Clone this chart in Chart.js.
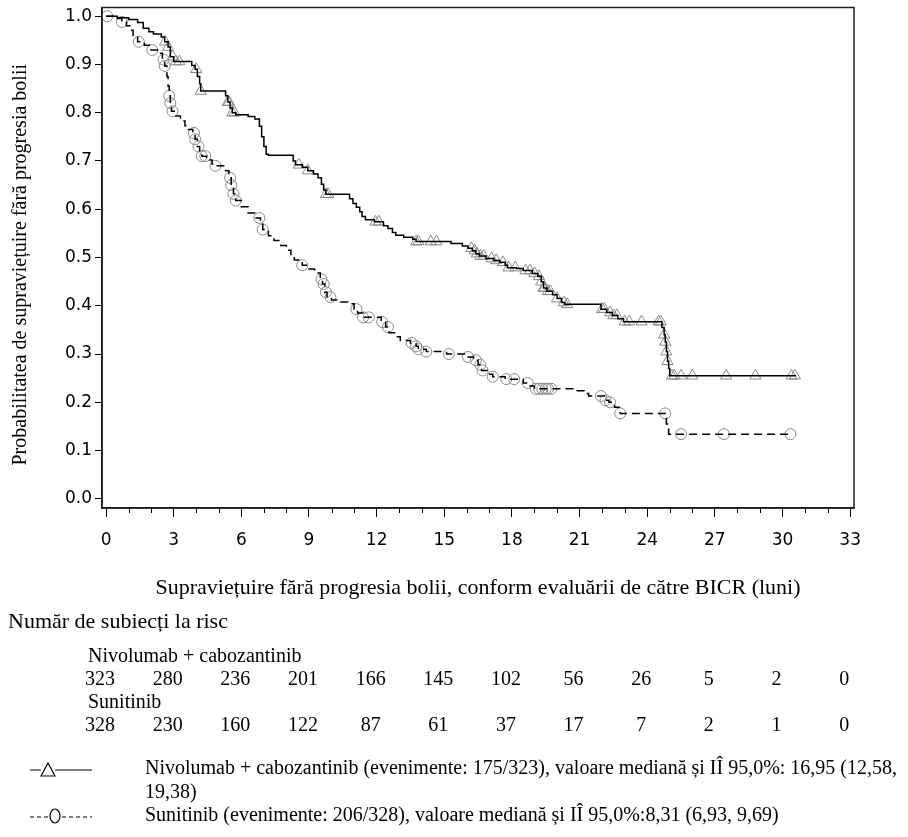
<!DOCTYPE html>
<html>
<head>
<meta charset="utf-8">
<script src="https://cdn.jsdelivr.net/npm/chart.js@4.4.1/dist/chart.umd.min.js"></script>
<style>
  html, body { margin: 0; padding: 0; background: #fff; }
  canvas { display: block; }
</style>
</head>
<body>
<canvas id="kmChart" width="908" height="837"></canvas>
<script>
// axis ticks
const xTicks = [0, 3, 6, 9, 12, 15, 18, 21, 24, 27, 30, 33];
const yTicks = [0, 0.1, 0.2, 0.3, 0.4, 0.5, 0.6, 0.7, 0.8, 0.9, 1.0];

// Nivolumab + cabozantinib: KM steps (months, survival)
const nivoTime = [0, 0.5, 1.0, 1.4, 1.65, 1.9, 2.1, 2.45, 2.6, 2.75, 2.85, 3.0,
  3.8, 3.95, 4.05, 4.15, 4.2, 5.3, 5.4, 5.5, 5.6, 5.75, 6.3, 6.6, 6.8, 6.9, 7.0, 7.1, 7.2,
  8.3, 8.4, 8.7, 8.95, 9.2, 9.4, 9.55, 9.65, 9.75, 10.8, 10.95, 11.1, 11.25, 11.35, 11.5,
  11.9, 12.3, 12.5, 12.7, 12.85, 13.2, 13.6, 13.75, 15.3, 15.8, 16.05, 16.25, 16.4, 16.55,
  16.85, 17.2, 17.45, 17.7, 17.8, 18.2, 18.5, 18.9, 19.15, 19.3, 19.4, 19.55, 19.8, 20.0,
  20.2, 20.35, 21.95, 22.2, 22.45, 22.7, 22.95, 24.65, 24.75, 24.8, 24.85, 24.9, 24.95,
  25.0, 30.6];
const nivoSurv = [1.0, 0.997, 0.993, 0.987, 0.975, 0.968, 0.963, 0.957, 0.947, 0.936, 0.916, 0.906,
  0.898, 0.89, 0.875, 0.86, 0.845, 0.835, 0.822, 0.81, 0.8, 0.796, 0.792, 0.787, 0.772, 0.75, 0.73, 0.714, 0.712,
  0.70, 0.692, 0.687, 0.68, 0.673, 0.665, 0.652, 0.64, 0.631, 0.622, 0.612, 0.604, 0.595, 0.585, 0.578,
  0.574, 0.566, 0.56, 0.552, 0.546, 0.542, 0.538, 0.533, 0.529, 0.524, 0.519, 0.514, 0.508, 0.503,
  0.498, 0.494, 0.49, 0.484, 0.479, 0.477, 0.473, 0.467, 0.461, 0.45, 0.437, 0.43, 0.423, 0.415,
  0.407, 0.403, 0.393, 0.386, 0.38, 0.373, 0.367, 0.355, 0.34, 0.325, 0.305, 0.285, 0.27,
  0.255, 0.255];
const nivoCensor = [2.62, 2.75, 2.95, 3.1, 3.25, 4.0, 4.2, 5.4, 5.45, 5.6, 5.7, 8.55, 8.95, 9.75, 9.85,
  11.95, 12.1, 13.75, 13.85, 14.4, 14.65, 16.2, 16.35, 16.45, 16.6, 16.75, 17.1, 17.3, 17.6, 17.85,
  18.15, 18.6, 18.8, 19.0, 19.2, 19.3, 19.4, 19.45, 19.6, 19.7, 20.0, 20.3, 20.45, 22.0, 22.1, 22.35,
  22.5, 22.65, 23.0, 23.2, 23.75, 24.5, 24.6, 24.75, 24.8, 24.85, 24.9, 25.1, 25.2, 25.5, 26.0, 27.5,
  28.8, 30.4, 30.55];

// Sunitinib: KM steps
const suniTime = [0, 0.4, 0.7, 0.9, 1.05, 1.2, 1.4, 1.7, 2.0, 2.35, 2.5, 2.6, 2.7, 2.75, 2.8, 2.85, 2.9,
  3.1, 3.3, 3.5, 3.65, 3.85, 3.95, 4.05, 4.15, 4.25, 4.45, 4.7, 4.85, 5.3, 5.45, 5.55, 5.65, 5.75,
  6.0, 6.3, 6.6, 6.85, 6.95, 7.2, 7.45, 7.75, 8.0, 8.2, 8.35, 8.7, 9.0, 9.25, 9.5, 9.6, 9.7, 9.8,
  10.0, 10.4, 10.8, 11.0, 11.15, 11.4, 12.2, 12.4, 12.55, 12.8, 13.05, 13.5, 13.75, 13.85, 14.2,
  15.1, 16.0, 16.3, 16.5, 16.65, 16.9, 17.15, 17.7, 18.5, 18.8, 19.0, 20.7, 21.2, 21.4, 22.1, 22.3,
  22.55, 22.8, 24.85, 24.95, 30.45];
const suniSurv = [1.0, 0.995, 0.988, 0.98, 0.971, 0.96, 0.947, 0.94, 0.93, 0.923, 0.91, 0.897, 0.875, 0.855, 0.835, 0.82, 0.803,
  0.793, 0.783, 0.773, 0.765, 0.758, 0.745, 0.73, 0.718, 0.71, 0.702, 0.694, 0.69, 0.68, 0.665, 0.65, 0.632, 0.618,
  0.605, 0.592, 0.582, 0.572, 0.558, 0.545, 0.535, 0.525, 0.515, 0.502, 0.495, 0.484, 0.476, 0.468, 0.455, 0.445, 0.428, 0.418,
  0.412, 0.408, 0.404, 0.393, 0.385, 0.376, 0.366, 0.356, 0.344, 0.336, 0.328, 0.323, 0.316, 0.31, 0.305,
  0.3, 0.294, 0.287, 0.278, 0.266, 0.258, 0.253, 0.248, 0.24, 0.234, 0.228, 0.224, 0.218, 0.213, 0.204, 0.2,
  0.19, 0.177, 0.155, 0.134, 0.134];
const suniCensor = [0.05, 0.7, 1.45, 2.05, 2.55, 2.6, 2.8, 2.85, 2.95, 3.9, 3.95, 4.1, 4.25, 4.4, 4.85,
  5.5, 5.55, 5.65, 5.75, 6.8, 6.95, 8.7, 9.55, 9.65, 9.75, 9.95, 11.1, 11.4, 11.65, 12.25, 12.5, 13.55,
  13.75, 13.85, 14.2, 15.2, 16.05, 16.4, 16.6, 16.7, 17.15, 17.75, 18.1, 18.7, 19.05, 19.2, 19.35, 19.5,
  19.6, 19.75, 21.95, 22.15, 22.35, 22.8, 24.8, 25.5, 27.4, 30.35];

// number at risk
const riskTimes = [0, 3, 6, 9, 12, 15, 18, 21, 24, 27, 30, 33];
const nivoRisk = [323, 280, 236, 201, 166, 145, 102, 56, 26, 5, 2, 0];
const suniRisk = [328, 230, 160, 122, 87, 61, 37, 17, 7, 2, 1, 0];

const yTitle = 'Probabilitatea de supraviețuire fără progresia bolii';
const xTitle = 'Supraviețuire fără progresia bolii, conform evaluării de către BICR (luni)';
const riskTitle = 'Număr de subiecți la risc';
const armNames = ['Nivolumab + cabozantinib', 'Sunitinib'];
const legendLines = [
  'Nivolumab + cabozantinib (evenimente: 175/323), valoare mediană și IÎ 95,0%: 16,95 (12,58,',
  '19,38)',
  'Sunitinib (evenimente: 206/328), valoare mediană și IÎ 95,0%:8,31 (6,93, 9,69)'
];

const serif = '"Liberation Serif", "Times New Roman", serif';
const sans = '"DejaVu Sans", Verdana, sans-serif';

function toPoints(times, surv) {
  return times.map((t, i) => ({ x: t, y: surv[i] }));
}

// survival value at a censor time, read from the step arrays
function survAt(times, surv, t) {
  let s = surv[0];
  for (let i = 0; i < times.length; i++) {
    if (times[i] <= t) s = surv[i]; else break;
  }
  return s;
}

function censorPoints(cens, times, surv) {
  return cens.map(t => ({ x: t, y: survAt(times, surv, t) }));
}

const kmText = {
  id: 'kmText',
  afterDraw(chart) {
    const { ctx, chartArea: a, scales: { x } } = chart;
    ctx.save();

    // frame round the plot
    ctx.strokeStyle = '#222';
    ctx.lineWidth = 1.5;
    ctx.strokeRect(a.left, a.top, a.right - a.left, a.bottom - a.top);

    // minor ticks every month
    ctx.lineWidth = 1;
    ctx.strokeStyle = '#000';
    for (let m = xTicks[0]; m <= xTicks[xTicks.length - 1]; m++) {
      if (m % 3 === 0) continue;
      const px = Math.round(x.getPixelForValue(m)) + 0.5;
      ctx.beginPath();
      ctx.moveTo(px, a.bottom);
      ctx.lineTo(px, a.bottom + 5);
      ctx.stroke();
    }

    ctx.fillStyle = '#000';
    ctx.textBaseline = 'middle';

    // y title
    ctx.font = '20px ' + serif;
    ctx.save();
    ctx.translate(21, (a.top + a.bottom) / 2 + 7);
    ctx.rotate(-Math.PI / 2);
    ctx.textAlign = 'center';
    ctx.fillText(yTitle, 0, 0);
    ctx.restore();

    // x title
    ctx.font = '22px ' + serif;
    ctx.textAlign = 'center';
    ctx.fillText(xTitle, (a.left + a.right) / 2, 588);

    // number at risk
    ctx.textAlign = 'left';
    ctx.fillText(riskTitle, 8, 622);
    ctx.font = '20px ' + serif;
    ctx.fillText(armNames[0], 88, 657);
    ctx.fillText(armNames[1], 88, 703);
    ctx.textAlign = 'center';
    riskTimes.forEach((t, i) => {
      const px = x.getPixelForValue(t) - 6;
      ctx.fillText(String(nivoRisk[i]), px, 680);
      ctx.fillText(String(suniRisk[i]), px, 726);
    });

    // legend
    ctx.textAlign = 'left';
    ctx.fillText(legendLines[0], 145, 769, 752);
    ctx.fillText(legendLines[1], 145, 793);
    ctx.fillText(legendLines[2], 145, 816, 752);

    // legend samples
    ctx.strokeStyle = '#000';
    ctx.lineWidth = 1.2;
    ctx.beginPath();
    ctx.moveTo(30, 770); ctx.lineTo(41, 770);
    ctx.moveTo(55, 770); ctx.lineTo(92, 770);
    ctx.stroke();
    ctx.beginPath();
    ctx.moveTo(41, 776); ctx.lineTo(48, 763); ctx.lineTo(55, 776); ctx.closePath();
    ctx.stroke();

    ctx.setLineDash([4, 3]);
    ctx.beginPath();
    ctx.moveTo(30, 817); ctx.lineTo(48, 817);
    ctx.moveTo(62, 817); ctx.lineTo(92, 817);
    ctx.stroke();
    ctx.setLineDash([]);
    ctx.beginPath();
    ctx.ellipse(55, 816, 5, 7, 0, 0, Math.PI * 2);
    ctx.stroke();

    ctx.restore();
  }
};

new Chart(document.getElementById('kmChart'), {
  type: 'line',
  data: {
    datasets: [
      {
        label: armNames[0],
        data: toPoints(nivoTime, nivoSurv),
        stepped: 'before',
        borderColor: '#000',
        borderWidth: 1.5,
        pointRadius: 0,
        fill: false,
        order: 0
      },
      {
        label: armNames[1],
        data: toPoints(suniTime, suniSurv),
        stepped: 'before',
        borderColor: '#000',
        borderWidth: 1.5,
        borderDash: [8, 5],
        pointRadius: 0,
        fill: false,
        order: 0
      },
      {
        label: 'cenzurat ' + armNames[0],
        data: censorPoints(nivoCensor, nivoTime, nivoSurv),
        showLine: false,
        pointStyle: 'triangle',
        pointRadius: 6.5,
        pointBorderWidth: 1,
        pointBorderColor: '#8a8a8a',
        pointBackgroundColor: 'rgba(0,0,0,0)',
        order: 1
      },
      {
        label: 'cenzurat ' + armNames[1],
        data: censorPoints(suniCensor, suniTime, suniSurv),
        showLine: false,
        pointStyle: 'circle',
        pointRadius: 5.5,
        pointBorderWidth: 1,
        pointBorderColor: '#8a8a8a',
        pointBackgroundColor: 'rgba(0,0,0,0)',
        order: 1
      }
    ]
  },
  options: {
    responsive: false,
    animation: false,
    devicePixelRatio: 1,
    layout: { padding: { left: 0, top: 1, right: 54, bottom: 289 } },
    plugins: { legend: { display: false }, tooltip: { enabled: false } },
    scales: {
      x: {
        type: 'linear',
        min: -0.18,
        max: 33.17,
        afterBuildTicks: s => { s.ticks = xTicks.map(v => ({ value: v })); },
        afterFit: s => { s.height = 40; s.paddingLeft = 0; s.paddingRight = 0; },
        ticks: { font: { family: sans, size: 17 }, color: '#000', padding: 13, maxRotation: 0, autoSkip: false },
        grid: { drawOnChartArea: false, tickLength: 9, color: '#000' },
        border: { color: '#000', width: 1.5 }
      },
      y: {
        min: -0.019,
        max: 1.018,
        afterBuildTicks: s => { s.ticks = yTicks.map(v => ({ value: v })); },
        afterFit: s => { s.width = 102; s.paddingTop = 0; s.paddingBottom = 0; },
        ticks: { font: { family: sans, size: 17 }, color: '#000', padding: 3, callback: v => v.toFixed(1) },
        grid: { drawOnChartArea: false, tickLength: 7, color: '#000' },
        border: { color: '#000', width: 1.5 }
      }
    }
  },
  plugins: [kmText]
});
</script>
</body>
</html>
